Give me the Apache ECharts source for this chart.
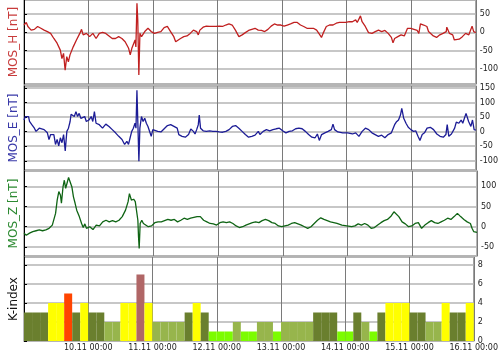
<!DOCTYPE html>
<html><head><meta charset="utf-8">
<script src="https://cdn.jsdelivr.net/npm/echarts@6/dist/echarts.min.js"></script>
<style>html,body{margin:0;padding:0;background:#fff}#c{width:501px;height:352px}</style>
</head><body><div id="c"></div>
<script>
const dayLabels = ['09.11 00:00','10.11 00:00','11.11 00:00','12.11 00:00','13.11 00:00','14.11 00:00','15.11 00:00','16.11 00:00'];
// hours since 09.11 00:00, value in nT
const mosH = [[0,20],[0.85,27],[1.45,16],[2.65,6],[3.86,8],[5.07,16],[6.27,11],[7.48,6],[8.69,2],[9.89,-3],[11.1,-17],[12.3,-30],[13.5,-49],[14.1,-72],[14.7,-58],[15.3,-104],[15.9,-67],[16.5,-81],[17.1,-62],[18.3,-40],[19.5,-21],[20.75,-3],[21.4,8],[22.0,-7],[23.2,-3],[24.4,-12],[25.6,-3],[26.8,-17],[28.0,-3],[29.2,0],[30.4,-3],[31.6,-10],[32.8,-17],[34.0,-17],[35.2,-12],[36.4,-17],[37.6,-26],[38.9,-44],[39.5,-62],[40.1,-44],[40.7,-40],[41.3,-21],[41.6,-40],[42.0,80],[42.3,34],[42.7,-117],[43.1,-3],[43.7,-12],[44.9,2],[46.1,11],[47.3,2],[48.5,-3],[49.7,0],[50.9,2],[52.1,13],[53.3,16],[54.5,2],[55.7,-12],[56.4,-26],[57.0,-21],[58.2,-17],[59.4,-12],[60.6,-10],[61.8,-3],[63.0,6],[63.6,8],[64.2,2],[64.8,-7],[65.4,6],[66.0,5],[66.6,14],[67.8,17],[69.0,16],[70.2,16],[71.4,16],[72.6,17],[73.8,16],[75.0,20],[76.2,23],[77.4,20],[78.6,6],[79.9,-12],[81.1,-7],[82.3,-1],[83.5,5],[84.7,8],[85.9,11],[87.1,6],[88.3,5],[89.5,2],[90.7,8],[91.9,17],[93.1,23],[94.3,20],[95.5,20],[96.7,17],[97.9,20],[99.1,23],[100.4,27],[101.6,27],[102.8,20],[104.0,16],[105.2,11],[106.4,11],[107.6,11],[108.8,6],[110.0,-7],[110.6,-14],[111.2,-3],[112.4,16],[113.6,20],[114.9,20],[116.1,25],[117.3,27],[118.5,27],[119.7,27],[120.9,29],[122.1,29],[123.3,34],[123.9,27],[125.1,45],[125.7,29],[126.9,16],[128.1,-1],[129.4,-3],[130.6,2],[131.8,6],[133.0,2],[134.2,5],[135.4,-3],[136.6,-14],[137.2,-29],[137.8,-17],[139.0,-12],[140.2,-7],[141.4,-10],[142.6,11],[143.8,11],[145.0,8],[146.2,5],[146.8,-3],[147.4,23],[148.6,20],[149.8,16],[150.4,2],[151.0,-3],[152.2,-10],[153.4,-14],[154.6,-7],[155.8,-3],[157.0,2],[157.2,14],[158.2,-3],[159.4,-7],[160.0,-21],[160.6,-26],[161.8,-19],[163.0,-12],[164.2,-3],[165.4,-7],[166.6,17],[167.2,2],[168,-1]];
const mosE = [[0,40],[0.48,52],[1.09,46],[1.69,52],[2.05,35],[2.9,24],[3.86,12],[4.47,1],[5.07,-2],[5.67,12],[6.28,18],[7.48,7],[8.69,-4],[9.29,-27],[9.9,-10],[10.5,-16],[11.1,-10],[11.71,-44],[12.31,-27],[12.91,-49],[13.52,-21],[14.12,-38],[14.72,-10],[15.33,-66],[15.93,1],[16.53,12],[17.14,35],[17.5,60],[18.1,63],[18.7,52],[19.31,69],[19.91,52],[20.51,63],[21.12,46],[21.72,40],[22.57,52],[23.17,35],[24.13,40],[24.98,52],[25.58,35],[26.18,69],[26.79,29],[27.99,24],[29.2,12],[30.41,26],[31.61,18],[32.82,7],[34.03,-4],[35.23,-16],[36.44,-27],[37.41,-44],[38.25,-33],[38.85,-44],[39.46,-21],[40.06,1],[40.66,12],[41.27,29],[41.63,12],[41.99,142],[42.35,24],[42.72,-102],[43.08,12],[43.68,52],[44.28,35],[44.89,46],[45.49,29],[46.09,18],[46.7,24],[47.3,-16],[47.9,7],[48.51,1],[49.71,1],[50.92,-1],[52.13,10],[53.34,21],[54.54,24],[55.75,18],[56.96,12],[57.56,-10],[58.77,-16],[59.97,-19],[61.18,-10],[62.02,9],[62.99,1],[63.59,-8],[64.2,7],[64.8,24],[65.16,57],[65.64,12],[66.61,3],[67.82,1],[69.02,3],[70.23,1],[71.44,1],[72.64,-1],[73.85,-2],[75.06,1],[76.26,7],[77.47,18],[78.68,21],[79.88,12],[81.09,1],[82.3,-10],[83.5,-19],[84.71,-16],[85.91,-12],[87.12,1],[87.72,-10],[88.93,1],[90.14,7],[91.34,3],[92.55,7],[93.76,10],[94.96,12],[96.17,3],[97.38,-4],[98.58,1],[99.79,3],[101.0,10],[102.2,12],[103.41,10],[104.62,1],[105.82,-10],[107.03,-19],[108.24,-21],[109.08,-8],[109.8,-30],[110.65,-10],[111.86,-4],[113.06,1],[113.67,1],[114.27,7],[114.88,26],[115.48,7],[116.69,-1],[118.5,-4],[120.31,-4],[122.12,-8],[123.32,-4],[124.53,-16],[125.74,1],[126.94,12],[128.15,7],[129.36,-4],[130.56,-10],[131.77,-16],[132.98,-12],[134.18,-21],[134.79,-27],[135.39,-10],[136.6,-4],[137.8,24],[138.41,33],[139.25,40],[139.97,57],[140.46,80],[141.18,46],[142.03,29],[142.87,15],[143.84,7],[144.8,1],[145.64,3],[146.49,-16],[147.21,-30],[148.06,-10],[148.9,-4],[149.87,12],[151.07,15],[152.28,7],[153.49,-8],[154.69,-16],[155.9,-19],[156.87,-10],[157.35,24],[157.95,-16],[158.92,-8],[160.12,12],[160.73,33],[161.69,29],[162.54,40],[163.14,29],[164.35,63],[165.31,35],[166.16,18],[166.76,40],[167.36,7],[168,5]];
const mosZ = [[0,-16],[0.85,-21],[2.05,-16],[3.26,-12],[4.47,-10],[5.67,-8],[6.88,-10],[8.09,-8],[9.29,-4],[10.5,4],[11.71,33],[12.31,66],[12.91,87],[13.52,78],[13.88,58],[14.48,99],[14.96,115],[15.45,95],[15.93,107],[16.53,122],[17.14,124],[17.74,99],[18.34,74],[18.95,58],[19.55,41],[20.51,25],[21.36,8],[21.96,-2],[22.57,7],[23.17,-4],[24.38,0],[25.58,-7],[26.79,4],[27.99,2],[29.2,12],[30.41,16],[31.61,12],[32.82,15],[34.03,12],[35.23,16],[36.44,25],[37.65,41],[38.61,62],[39.1,82],[39.82,66],[40.66,68],[41.27,62],[41.87,62],[42.23,16],[42.47,-25],[42.72,-54],[43.08,8],[43.68,16],[44.28,8],[44.89,12],[46.09,0],[47.3,2],[48.51,10],[49.71,12],[50.92,12],[52.13,15],[53.34,18],[54.54,16],[55.75,18],[56.96,12],[58.16,16],[59.37,21],[60.58,18],[61.78,21],[62.99,23],[64.2,25],[64.8,29],[65.4,25],[66.61,16],[67.82,12],[69.02,8],[70.23,7],[71.44,4],[72.64,10],[73.85,12],[75.06,10],[76.26,12],[77.47,8],[78.68,2],[79.88,-2],[81.09,0],[82.3,4],[83.5,7],[84.71,10],[85.91,12],[87.12,10],[88.33,15],[89.53,18],[90.74,15],[91.95,10],[93.15,8],[94.36,2],[95.57,0],[96.77,2],[97.98,4],[99.19,8],[100.39,10],[101.6,7],[102.81,4],[104.01,0],[105.22,-4],[106.43,0],[107.63,8],[108.84,16],[110.05,22],[111.25,18],[112.46,15],[113.67,12],[114.88,10],[116.08,8],[117.89,4],[119.7,2],[121.51,0],[122.72,2],[123.93,7],[125.13,4],[126.34,8],[127.55,4],[128.75,-4],[129.96,-2],[131.17,4],[132.37,10],[133.58,15],[134.79,18],[135.99,25],[137.2,37],[137.8,35],[139.01,25],[140.22,12],[141.42,7],[142.63,0],[143.84,2],[145.04,8],[146.25,10],[147.46,-4],[148.66,4],[149.87,10],[151.07,15],[152.28,10],[153.49,8],[154.69,12],[155.9,16],[157.11,21],[158.32,18],[159.52,25],[160.73,33],[161.93,25],[163.14,18],[164.35,12],[165.55,8],[166.16,-4],[166.76,-12],[167.36,-15],[168,-14]];
// 3-hourly K-index, 8 per day
const kIndex = [3,3,3,4,4,5,3,4, 3,3,2,2,4,4,7,4, 2,2,2,2,3,4,3,1, 1,1,2,1,1,2,2,1, 2,2,2,2,3,3,3,1, 1,3,2,1,3,4,4,4, 3,3,2,2,4,3,3,4];
const kColors = ['#7cfc00','#7cfc00','#97b54c','#6a7f2e','#ffff00','#ff4500','#c05050','#b06666','#a00000','#800000'];

const FONT = 'DejaVu Sans';
const panels = [
  {name:'MOS_H [nT]', color:'#c02020', nameColor:'#c83c3c', top:0, height:84, min:-142, max:88.7, data:mosH},
  {name:'MOS_E [nT]', color:'#1c1c96', nameColor:'#3838a8', top:86, height:84, min:-131.8, max:157, data:mosE},
  {name:'MOS_Z [nT]', color:'#0f6414', nameColor:'#2d8a32', top:171, height:85, min:-72.5, max:137.9, data:mosZ},
  {name:'K-index', color:'#000', nameColor:'#111', top:257, height:85.3, min:0, max:8.84}
];

const grid = panels.map(p => ({left:16, right:24, top:p.top, height:p.height, show:true, borderColor:'#a0a0a0', borderWidth:1.5, containLabel:false}));
const xAxis = panels.map((p,i) => ({
  type:'value', gridIndex:i, min:0, max:168, interval:24,
  axisLine:{show:false}, axisTick:{show:false},
  axisLabel:{show:i===3, fontSize:8, fontFamily:FONT, color:'#222', margin:3, showMinLabel:false, showMaxLabel:true,
    formatter:v => dayLabels[Math.round(v/24)]},
  splitLine:{show:true, lineStyle:{color:'#7a7a7a', width:1}}
}));
const yAxis = [];
panels.forEach((p,i) => {
  yAxis.push({
    type:'value', gridIndex:i, position:'right', min:p.min, max:p.max,
    axisLine:{show:true, lineStyle:{color:'#000', width:1}},
    axisTick:{show:true, length:3, lineStyle:{color:'#000'}},
    axisLabel:{fontSize:8, fontFamily:FONT, color:'#222', margin:4, showMinLabel:i===3, showMaxLabel:false},
    splitLine:{show:true, lineStyle:{color:'#b4b4b4', width:1.5}}
  });
});
panels.forEach((p,i) => {
  yAxis.push({
    type:'value', gridIndex:i, position:'left', min:p.min, max:p.max,
    axisLine:{show:false}, axisTick:{show:false}, axisLabel:{show:false}, splitLine:{show:false},
    name:p.name, nameLocation:'middle', nameGap:4,
    nameTextStyle:{color:p.nameColor, fontSize:12, fontFamily:FONT}
  });
});
const series = [];
panels.slice(0,3).forEach((p,i) => {
  series.push({type:'line', xAxisIndex:i, yAxisIndex:i, data:p.data, showSymbol:false, symbol:'none',
    lineStyle:{color:p.color, width:1.3}, animation:false, silent:true, z:3});
});
series.push({type:'bar', xAxisIndex:3, yAxisIndex:3, barWidth:8, animation:false, silent:true,
  data:kIndex.map((k,i) => ({value:[1.5+3*i, k], itemStyle:{color:kColors[k]}}))});

const chart = echarts.init(document.getElementById('c'), null, {renderer:'canvas'});
chart.setOption({animation:false, backgroundColor:'#fff', grid, xAxis, yAxis, series});
</script></body></html>
